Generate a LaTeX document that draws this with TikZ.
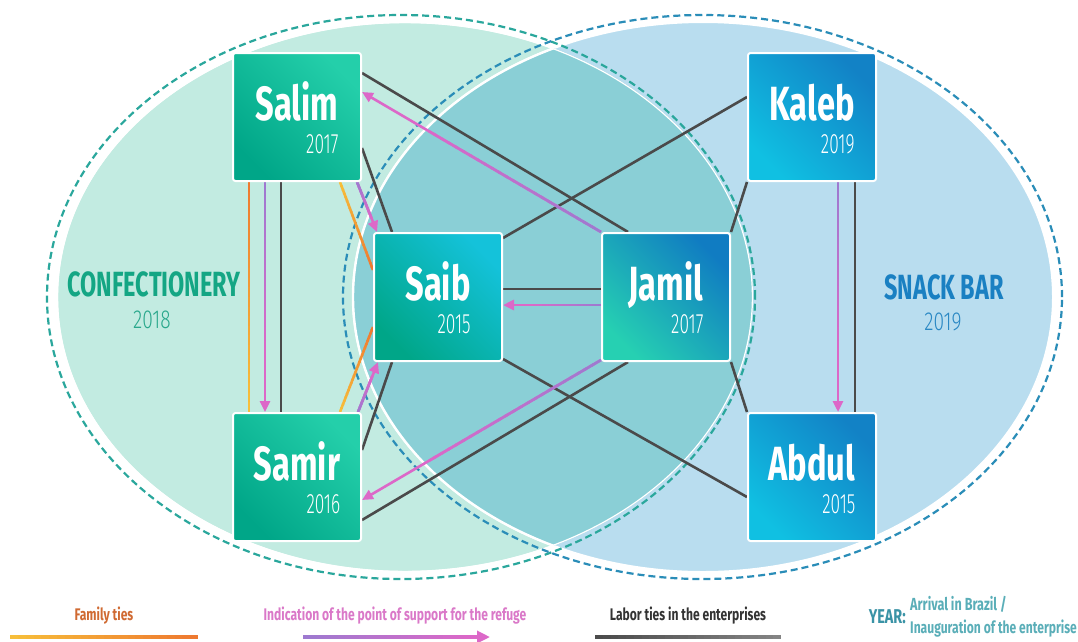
\documentclass[tikz,border=0pt]{standalone}
\usepackage{fontspec}
\usetikzlibrary{calc,arrows.meta}
\newfontfamily\namefont{Fira Sans Bold}[FakeStretch=0.68]
\newfontfamily\yearfont{Fira Sans Light}[FakeStretch=0.62]
\newfontfamily\labfont{Fira Sans Bold}[FakeStretch=0.67]
\newfontfamily\labyearfont{Fira Sans Light}[FakeStretch=0.74]
\newfontfamily\legfont{Fira Sans Bold}[FakeStretch=0.72]
\definecolor{mint}{HTML}{C2EBE1}
\definecolor{sky}{HTML}{B9DDEF}
\definecolor{lensc}{HTML}{8ACFD6}
\definecolor{dashL}{HTML}{2AA79C}
\definecolor{dashR}{HTML}{2A8DB8}
\definecolor{laborc}{HTML}{4A4A4A}
\definecolor{laborL}{HTML}{858585}
\definecolor{pinkA}{HTML}{DC68C8}
\definecolor{purpA}{HTML}{9C7AD0}
\definecolor{orgA}{HTML}{EE7830}
\definecolor{yelA}{HTML}{F7C03A}
\definecolor{salimA}{HTML}{00A688}
\definecolor{salimB}{HTML}{24CFAA}
\definecolor{saibA}{HTML}{00A688}
\definecolor{saibB}{HTML}{14C2DA}
\definecolor{jamilA}{HTML}{26D0B2}
\definecolor{jamilB}{HTML}{107CC2}
\definecolor{kalebA}{HTML}{10C0E2}
\definecolor{kalebB}{HTML}{1282C6}
\definecolor{confc}{HTML}{14A684}
\definecolor{confy}{HTML}{2AA88C}
\definecolor{snackc}{HTML}{1A80C2}
\definecolor{snacky}{HTML}{2A88C4}
\definecolor{famc}{HTML}{D06A32}
\definecolor{indc}{HTML}{DA78C8}
\definecolor{labc}{HTML}{333333}
\definecolor{yearc}{HTML}{3A93A6}
\definecolor{arrc}{HTML}{5AAEB8}
\pgfdeclarelayer{areas}
\pgfdeclarelayer{ties}
\pgfsetlayers{areas,ties,main}
\tikzset{
  box/.style 2 args={rectangle, rounded corners=2.5pt, draw=white, line width=2pt,
    minimum width=128pt, minimum height=128pt, inner sep=0pt,
    bottom color=#1, top color=#2, shading angle=-45},
  nametxt/.style={text=white, inner sep=0pt, font=\namefont\fontsize{48}{48}\selectfont},
  yeartxt/.style={text=white, inner sep=0pt, font=\yearfont\fontsize{28}{28}\selectfont},
  labtxt/.style={inner sep=0pt, font=\labfont\fontsize{35}{35}\selectfont},
  labyeartxt/.style={inner sep=0pt, font=\labyearfont\fontsize{26}{26}\selectfont},
  legtxt/.style={inner sep=0pt, font=\legfont\fontsize{16.8}{16.8}\selectfont},
  legtxtb/.style={inner sep=0pt, font=\legfont\fontsize{17.5}{17.5}\selectfont},
  legyear/.style={inner sep=0pt, font=\legfont\fontsize{20}{20}\selectfont},
  laborline/.style={draw=laborc, line width=2.6pt},
  pinkline/.style={draw=pinkA, line width=2.6pt, -{Triangle[length=11pt,width=10pt]}},
  dashedge/.style={line width=2.2pt, dash pattern=on 7pt off 4pt},
}
% gradient along a straight path: from, to, start colour, end colour, fraction covered, width
\newcommand\gradseg[6]{%
  \foreach \k in {1,...,24}{%
    \pgfmathsetmacro\fa{(\k-1)/24*#5}%
    \pgfmathsetmacro\fb{min(\k/24*#5+0.012,#5)}%
    \pgfmathtruncatemacro\pc{100-(\k-0.5)/24*100}%
    \draw[line width=#6, draw=#3!\pc!#4] ($(#1)!\fa!(#2)$) -- ($(#1)!\fb!(#2)$);
  }%
}
\newcommand\person[7]{%
  \node[box={#6}{#7}] (#1) at (#2,#3) {};
  \node[nametxt, anchor=base] (#1N) at ($(#1.center)+(0,3)$) {#4};
  \node[yeartxt, anchor=base east] (#1Y) at ($(#1N.base east)+(0,33)$) {#5};
}
\begin{document}
\begin{tikzpicture}[x=1pt,y=-1pt]
\useasboundingbox (0,0) rectangle (1078,641);
\begin{pgfonlayer}{areas}
\fill[white] (0,0) rectangle (1078,641);
\fill[mint] (405,297) ellipse [x radius=348pt, y radius=275pt];
\draw[white, line width=2pt] (405,297) ellipse [x radius=348pt, y radius=275pt];
\fill[sky] (703,297) ellipse [x radius=350pt, y radius=275pt];
\draw[white, line width=2pt] (703,297) ellipse [x radius=350pt, y radius=275pt];
\begin{scope}
  \clip (405,297) ellipse [x radius=348pt, y radius=275pt];
  \fill[lensc] (703,297) ellipse [x radius=350pt, y radius=275pt];
  \draw[white, line width=2.4pt] (703,297) ellipse [x radius=350pt, y radius=275pt];
  \draw[white, line width=2.4pt] (405,297) ellipse [x radius=348pt, y radius=275pt];
\end{scope}
\draw[dashedge, dashL] (401,297) ellipse [x radius=354pt, y radius=282pt];
\draw[dashedge, dashR] (702.5,297) ellipse [x radius=359.5pt, y radius=282pt];
\end{pgfonlayer}
% labels of the areas
\node[labtxt, text=confc] (conf) at (154,284) {CONFECTIONERY};
\node[labyeartxt, text=confy] (confY) at (152,320) {2018};
\node[labtxt, text=snackc] (snack) at (944,287) {SNACK BAR};
\node[labyeartxt, text=snacky] (snackY) at (943,322) {2019};
% people
\person{Salim}{297}{117}{Salim}{2017}{salimA}{salimB}
\person{Samir}{297}{477}{Samir}{2016}{salimA}{salimB}
\person{Saib}{438}{297}{Saib}{2015}{saibA}{saibB}
\person{Jamil}{666}{297}{Jamil}{2017}{jamilA}{jamilB}
\person{Kaleb}{812}{117}{Kaleb}{2019}{kalebA}{kalebB}
\person{Abdul}{812}{477}{Abdul}{2015}{kalebA}{kalebB}
% end points of the ties
\coordinate (f1a) at ($(Salim.south)+(-48,0)$); \coordinate (f1b) at ($(Samir.north)+(-48,0)$);
\coordinate (f2a) at ($(Salim.south)+(43,0)$);  \coordinate (f2b) at ($(Saib.west)+(0,-27)$);
\coordinate (f3a) at ($(Samir.north)+(43,0)$);  \coordinate (f3b) at ($(Saib.west)+(0,30)$);
\coordinate (p1a) at (Jamil.north west);        \coordinate (p1b) at ($(Salim.east)+(0,-25)$);
\coordinate (p2a) at ($(Salim.south east)+(-5,0)$); \coordinate (p2b) at ($(Saib.north west)+(4,0)$);
\coordinate (p3a) at ($(Salim.south)+(-32,0)$); \coordinate (p3b) at ($(Samir.north)+(-32,0)$);
\coordinate (p4a) at ($(Jamil.west)+(0,8)$);    \coordinate (p4b) at ($(Saib.east)+(0,8)$);
\coordinate (p5a) at ($(Samir.north east)+(-4,0)$); \coordinate (p5b) at ($(Saib.south west)+(5,0)$);
\coordinate (p6a) at ($(Jamil.south west)+(0,-2)$); \coordinate (p6b) at ($(Samir.east)+(0,23)$);
\coordinate (p7a) at ($(Kaleb.south)+(26,0)$);  \coordinate (p7b) at ($(Abdul.north)+(26,0)$);
\begin{pgfonlayer}{ties}
% labor ties
\draw[laborline] ($(Salim.east)+(0,-44)$) -- ($(Jamil.north)+(-38,0)$);
\draw[laborline] ($(Salim.east)+(0,31)$) -- ($(Saib.north)+(-46,0)$);
\draw[laborline] ($(Salim.south)+(-16,0)$) -- ($(Samir.north)+(-16,0)$);
\draw[laborline] ($(Kaleb.west)+(0,-20)$) -- ($(Saib.north east)+(0,6)$);
\draw[laborline] (Kaleb.south west) -- (Jamil.north east);
\draw[laborline] ($(Saib.east)+(0,-8)$) -- ($(Jamil.west)+(0,-8)$);
\draw[laborline] ($(Saib.south east)+(0,-3)$) -- ($(Abdul.west)+(0,20)$);
\draw[laborline] ($(Saib.south)+(-46,0)$) -- ($(Samir.east)+(0,-27)$);
\draw[laborline] ($(Jamil.south)+(-38,0)$) -- ($(Samir.east)+(0,43)$);
\draw[laborline] (Jamil.south east) -- (Abdul.north west);
\draw[laborline] ($(Kaleb.south)+(43,0)$) -- ($(Abdul.north)+(43,0)$);
% family ties
\gradseg{f1a}{f1b}{orgA}{yelA}{1}{2.6pt}
\gradseg{f2a}{f2b}{yelA}{orgA}{1}{2.6pt}
\gradseg{f3a}{f3b}{yelA}{orgA}{1}{2.6pt}
% indications of support
\foreach \e in {p1,p2,p3,p4,p5,p6,p7}{
  \draw[pinkline] (\e a) -- (\e b);
  \gradseg{\e a}{\e b}{purpA}{pinkA}{0.72}{2.6pt}
}
\end{pgfonlayer}
% legend
\node[legtxt, text=famc] (famT) at (104,616) {Family ties};
\node[legtxt, text=indc] (indT) at (395,616) {Indication of the point of support for the refuge};
\node[legtxt, text=labc] (labT) at (688,616) {Labor ties in the enterprises};
\node[legyear, text=yearc, anchor=east] (yrT) at (906,617) {YEAR:};
\node[legtxtb, text=arrc, anchor=west] (arrT) at (910,604) {Arrival in Brazil /};
\node[legtxt, text=arrc, anchor=west] (inaT) at (910,629) {Inauguration of the enterprise};
\coordinate (famA) at (10,637);  \coordinate (famB) at (198,637);
\coordinate (indA) at (303,637); \coordinate (indB) at (490,637);
\coordinate (labA) at (595,637); \coordinate (labB) at (781,637);
\gradseg{famA}{famB}{yelA}{orgA}{1}{3.5pt}
\draw[draw=pinkA, line width=3.5pt, -{Triangle[length=13pt,width=12pt]}] (indA) -- (indB);
\gradseg{indA}{indB}{purpA}{pinkA}{0.9}{3.5pt}
\gradseg{labA}{labB}{laborc}{laborL}{1}{3.5pt}
\end{tikzpicture}
\end{document}
